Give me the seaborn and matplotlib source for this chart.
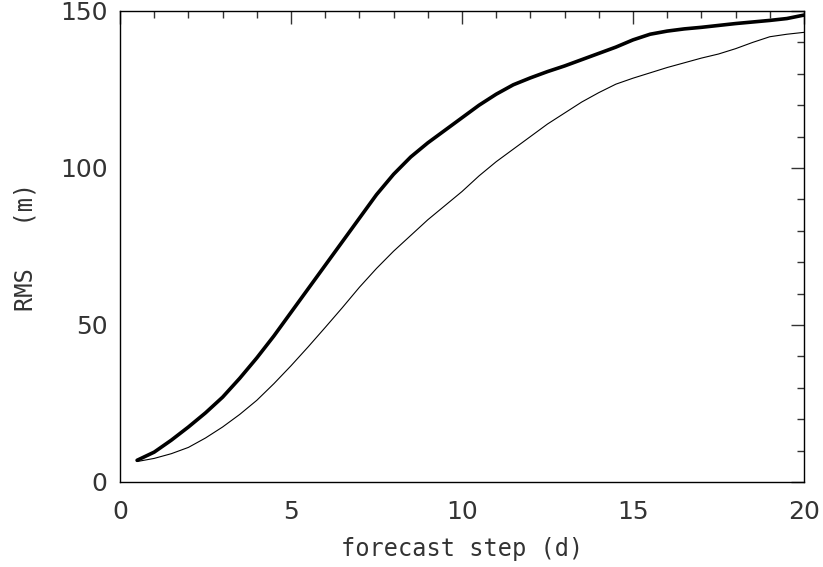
import numpy as np
import pandas as pd
import matplotlib
matplotlib.use("Agg")
import matplotlib.pyplot as plt
import seaborn as sns
from matplotlib.ticker import MultipleLocator

# forecast step in days
steps = [0.5, 1.0, 1.5, 2.0, 2.5, 3.0, 3.5, 4.0, 4.5, 5.0,
         5.5, 6.0, 6.5, 7.0, 7.5, 8.0, 8.5, 9.0, 9.5, 10.0,
         10.5, 11.0, 11.5, 12.0, 12.5, 13.0, 13.5, 14.0, 14.5, 15.0,
         15.5, 16.0, 16.5, 17.0, 17.5, 18.0, 18.5, 19.0, 19.5, 20.0]

# RMS (m), thick curve
rms_thick = [6.9, 9.5, 13.3, 17.5, 22.0, 27.0, 33.0, 39.5, 46.5, 54.0,
             61.5, 69.0, 76.5, 84.0, 91.5, 98.0, 103.5, 108.0, 112.0, 116.0,
             120.0, 123.5, 126.5, 128.7, 130.7, 132.5, 134.5, 136.5, 138.5, 140.8,
             142.6, 143.6, 144.3, 144.8, 145.4, 146.0, 146.5, 147.0, 147.6, 148.7]

# RMS (m), thin curve
rms_thin = [6.5, 7.5, 9.0, 11.0, 14.0, 17.5, 21.5, 26.0, 31.3, 37.0,
            43.0, 49.2, 55.5, 62.0, 68.0, 73.5, 78.5, 83.5, 88.0, 92.5,
            97.5, 102.0, 106.0, 110.0, 114.0, 117.5, 121.0, 124.0, 126.7, 128.6,
            130.3, 132.0, 133.5, 135.0, 136.3, 138.0, 140.0, 141.8, 142.6, 143.2]

df = pd.DataFrame({"step": steps, "thick": rms_thick, "thin": rms_thin})

sns.set_style("white")
plt.rcParams["font.family"] = ["DejaVu Sans"]

fig = plt.figure(figsize=(8.23, 5.67), dpi=100)
ax = fig.add_axes([0.1458, 0.150, 0.8311, 0.8306])

sns.lineplot(data=df, x="step", y="thick", color="black", linewidth=2.6, ax=ax)
sns.lineplot(data=df, x="step", y="thin", color="black", linewidth=0.8, ax=ax)

ax.set_xlim(0, 20)
ax.set_ylim(0, 150)
ax.xaxis.set_major_locator(MultipleLocator(5))
ax.xaxis.set_minor_locator(MultipleLocator(1))
ax.yaxis.set_major_locator(MultipleLocator(50))
ax.yaxis.set_minor_locator(MultipleLocator(10))

for s in ax.spines.values():
    s.set_visible(True)
    s.set_color("black")
    s.set_linewidth(1.0)

ax.tick_params(which="both", direction="in", top=True, right=True,
               color="#333333", width=1.0)
ax.tick_params(which="major", length=9.5)
ax.tick_params(which="minor", length=5)
ax.tick_params(axis="x", which="major", pad=13, labelsize=18, labelcolor="#333333")
ax.tick_params(axis="y", which="major", pad=9, labelsize=18, labelcolor="#333333")

ax.set_xlabel("forecast step (d)", fontsize=17, color="#333333",
              family="DejaVu Sans Mono", labelpad=9)
ax.set_ylabel("RMS   (m)", fontsize=17, color="#333333",
              family="DejaVu Sans Mono", labelpad=16)

fig.savefig("out.png", dpi=100)
